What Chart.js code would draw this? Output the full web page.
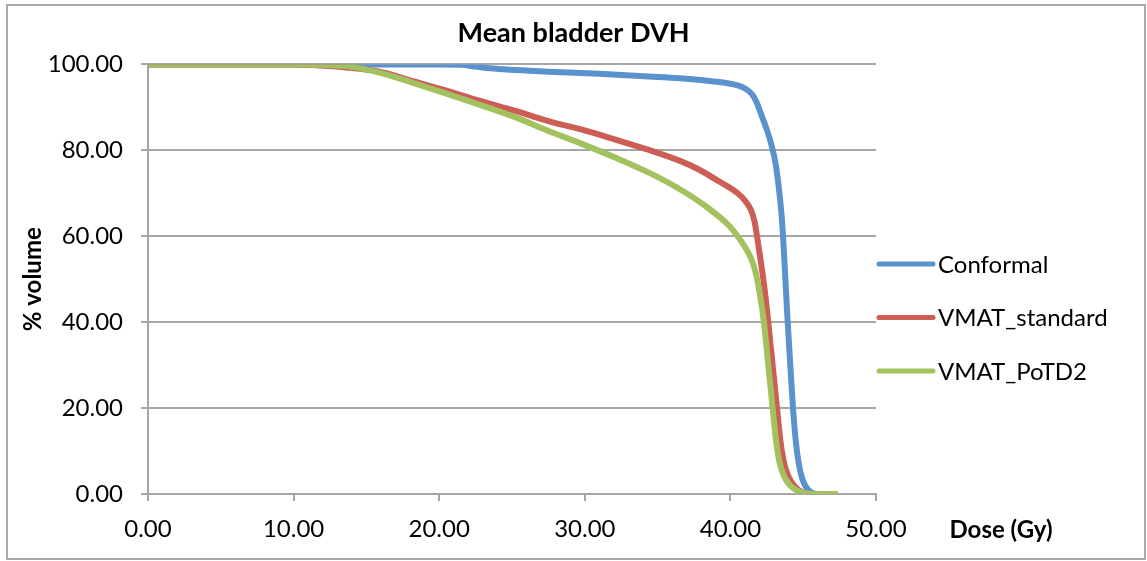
<!DOCTYPE html>
<html>
<head>
<meta charset="utf-8">
<title>Mean bladder DVH</title>
<script src="https://cdn.jsdelivr.net/npm/chart.js@4/dist/chart.umd.min.js"></script>
<style>
    html, body { margin: 0; padding: 0; background: #fff; }
    canvas { display: block; }
</style>
</head>
<body>
<canvas id="dvhChart" width="1147" height="561"></canvas>
<script>
// Series names and colours
const seriesNames = ['Conformal', 'VMAT_standard', 'VMAT_PoTD2'];
const seriesColors = ['#5A92CD', '#CC5E55', '#A3C25F'];

// Dose (Gy) / % volume pairs for each plan
const conformalDose = [0, 10, 20, 21.5, 22.5, 23.5, 25.3, 27.5, 31, 34.4, 36.5, 38.7, 40.5, 41.0, 41.5, 41.8, 42.1, 42.5, 42.8, 43.1, 43.3, 43.5, 43.65, 43.9, 44.15, 44.3, 44.5, 44.7, 44.9, 45.1, 45.4, 45.8, 46.2, 47.2];
const conformalVol  = [100, 100, 100, 99.9, 99.5, 99.1, 98.7, 98.3, 97.8, 97.2, 96.8, 96.1, 95.1, 94.4, 93.0, 91.2, 88.5, 84.8, 81.5, 77, 72, 65.5, 58, 42, 28, 20, 12, 7, 4, 2.2, 0.8, 0.1, 0, 0];

const standardDose = [0, 10, 11.5, 13.6, 15.9, 18.2, 20.5, 22.7, 25.3, 27.5, 29.8, 32.1, 34.4, 36.5, 37.8, 39.2, 40.5, 41.0, 41.4, 41.65, 41.85, 42.05, 42.3, 42.6, 42.9, 43.2, 43.45, 43.7, 44.0, 44.4, 44.9, 45.5, 47.2];
const standardVol  = [100, 100, 99.8, 99.3, 98.3, 96.1, 93.9, 91.6, 89.1, 86.8, 84.8, 82.5, 80.1, 77.6, 75.6, 72.8, 70.0, 68.3, 66.2, 63.5, 59.5, 55, 49, 40, 30, 20, 12, 7, 4, 1.8, 0.5, 0, 0];

const potd2Dose = [0, 10, 12, 13.6, 15.9, 18.2, 20.5, 22.7, 25.3, 27.5, 29.8, 32.1, 34.4, 36.5, 38.3, 39.9, 40.5, 41.0, 41.4, 41.7, 42.0, 42.3, 42.6, 42.9, 43.15, 43.4, 43.7, 44.1, 44.6, 45.2, 45.8, 47.2];
const potd2Vol  = [100, 100, 99.9, 99.6, 98.1, 95.7, 93.2, 90.7, 87.6, 84.5, 81.5, 78.3, 74.8, 71, 67, 62.5, 60, 57.5, 55, 52, 47, 40, 30, 20, 12, 7, 4, 2, 0.8, 0.2, 0, 0];

const axisGray = '#a6a6a6';
const fontFamily = 'Lato, "Open Sans", sans-serif';

function toPoints(dose, vol) {
    return dose.map((d, i) => ({ x: d, y: vol[i] }));
}

// Outer frame, right-hand legend and the dose label next to the axis
const decorPlugin = {
    id: 'decor',
    beforeDraw(chart) {
        const ctx = chart.ctx;
        ctx.save();
        ctx.fillStyle = '#fff';
        ctx.fillRect(0, 0, chart.width, chart.height);
        ctx.strokeStyle = '#ababab';
        ctx.lineWidth = 2;
        ctx.strokeRect(7, 5, 1138, 554);
        ctx.restore();
    },
    afterDraw(chart) {
        const ctx = chart.ctx;
        const area = chart.chartArea;
        ctx.save();

        // legend
        const lx = area.right + 3;
        const firstY = 264;
        const gap = 53.5;
        ctx.font = '24px ' + fontFamily;
        ctx.textBaseline = 'middle';
        ctx.textAlign = 'left';
        chart.data.datasets.forEach((ds, i) => {
            const y = firstY + i * gap;
            ctx.strokeStyle = ds.borderColor;
            ctx.lineWidth = 5;
            ctx.lineCap = 'round';
            ctx.beginPath();
            ctx.moveTo(lx, y);
            ctx.lineTo(lx + 54, y);
            ctx.stroke();
            ctx.fillStyle = '#000';
            ctx.fillText(ds.label, lx + 59, y + 1);
        });

        // x axis title
        ctx.font = 'bold 24px ' + fontFamily;
        ctx.textAlign = 'center';
        ctx.fillText('Dose (Gy)', 1001, 530);
        ctx.restore();
    }
};

const doses = [conformalDose, standardDose, potd2Dose];
const volumes = [conformalVol, standardVol, potd2Vol];

const datasets = seriesNames.map((name, i) => ({
    label: name,
    data: toPoints(doses[i], volumes[i]),
    borderColor: seriesColors[i],
    backgroundColor: seriesColors[i],
    borderWidth: 6,
    borderCapStyle: 'round',
    borderJoinStyle: 'round',
    pointRadius: 0,
    cubicInterpolationMode: 'monotone',
    order: 2 - i
}));

new Chart(document.getElementById('dvhChart'), {
    type: 'line',
    data: { datasets: datasets },
    plugins: [decorPlugin],
    options: {
        responsive: false,
        animation: false,
        devicePixelRatio: 1,
        layout: { padding: 0 },
        plugins: {
            legend: { display: false },
            tooltip: { enabled: false },
            title: {
                display: true,
                text: 'Mean bladder DVH',
                color: '#000',
                font: { family: fontFamily, size: 27, weight: 'bold' },
                padding: { top: 17, bottom: 15 }
            }
        },
        scales: {
            x: {
                type: 'linear',
                min: 0,
                max: 50,
                afterFit(scale) { scale.height = 67; },
                ticks: {
                    stepSize: 10,
                    color: '#000',
                    padding: 14,
                    maxRotation: 0,
                    font: { family: fontFamily, size: 24 },
                    callback: v => v.toFixed(2)
                },
                grid: {
                    drawOnChartArea: false,
                    drawTicks: true,
                    tickLength: 7,
                    color: axisGray,
                    lineWidth: 2
                },
                border: { display: true, color: axisGray, width: 2 }
            },
            y: {
                min: 0,
                max: 100,
                afterFit(scale) { scale.width = 148; },
                ticks: {
                    stepSize: 20,
                    color: '#000',
                    padding: 18,
                    font: { family: fontFamily, size: 24 },
                    callback: v => v.toFixed(2)
                },
                grid: {
                    drawTicks: true,
                    tickLength: 7,
                    color: axisGray,
                    lineWidth: 2
                },
                border: { display: true, color: axisGray, width: 2 },
                title: {
                    display: true,
                    text: '% volume',
                    color: '#000',
                    font: { family: fontFamily, size: 24, weight: 'bold' },
                    padding: { top: 19, bottom: 0 }
                }
            },
            // empty right-hand axis that reserves room for the legend
            legendSpace: {
                type: 'linear',
                position: 'right',
                display: true,
                afterFit(scale) { scale.width = 271; },
                ticks: { display: false },
                grid: { display: false, drawTicks: false },
                border: { display: false }
            }
        }
    }
});
</script>
</body>
</html>
